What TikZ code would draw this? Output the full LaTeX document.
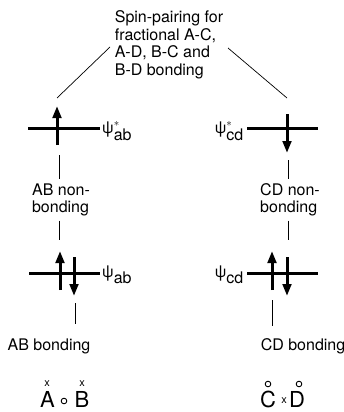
\documentclass[tikz,border=0pt]{standalone}
\usepackage{fontspec}
\setmainfont{TeX Gyre Heros}
\usetikzlibrary{arrows.meta}

\begin{document}
\begin{tikzpicture}[x=1pt,y=-1pt,
  level/.style={line width=3pt},
  spin/.style ={line width=3pt, -{Triangle[length=12pt,width=8.5pt]}},
  link/.style ={line width=0.7pt},
  txt/.style  ={font=\fontsize{16}{17.5}\selectfont, inner sep=0pt},
  atom/.style ={font=\fontsize{22}{22}\selectfont, inner sep=0pt, anchor=base},
  xtag/.style ={font=\fontsize{11}{11}\selectfont, inner sep=0pt},
  otag/.style ={line width=0.9pt}]
  \useasboundingbox (0,0) rectangle (344,412);

  % caption at the top, split to the two antibonding levels
  \node[txt, align=left] (pair) at (169,45)
    {Spin-pairing for\\fractional A-C,\\A-D, B-C and\\B-D bonding};
  \coordinate (pl) at (110,47);  \coordinate (ul) at (57,98);
  \coordinate (pr) at (228,48);  \coordinate (ur) at (287,98);
  \draw[link] (pl) -- (ul);
  \draw[link] (pr) -- (ur);

  % ---- AB side ----
  \draw[level] (28,128) -- (100,128);
  \draw[spin]  (57,145) -- (57,106);
  \node[txt, anchor=west] (psiab1) at (102,131) {ψ$^{*}_{\mbox{ab}}$};
  \node[txt, align=left] (abnb) at (61,200) {AB non-\\bonding};
  \coordinate (ab1) at (59,155);  \coordinate (ab2) at (59,240);
  \draw[link, shorten >=4pt] (ab1) -- (ab1 |- abnb.north);
  \draw[link, shorten <=4pt] (ab2 |- abnb.south) -- (ab2);
  \draw[level] (29,273) -- (100,273);
  \draw[spin]  (60,290) -- (60,251);
  \draw[spin]  (74,257) -- (74,296);
  \node[txt, anchor=west] (psiab0) at (102,275) {ψ$_{\mbox{ab}}$};
  \coordinate (ab3) at (75,303);
  \node[txt] (abb) at (49,346) {AB bonding};
  \draw[link, shorten >=14pt] (ab3) -- (ab3 |- abb.north);

  % ---- CD side ----
  \draw[level] (247,128) -- (318,128);
  \draw[spin]  (287,114) -- (287,153);
  \node[txt, anchor=east] (psicd1) at (244,131) {ψ$^{*}_{\mbox{cd}}$};
  \node[txt, align=left] (cdnb) at (290,200) {CD non-\\bonding};
  \coordinate (cd1) at (288,160);  \coordinate (cd2) at (288,240);
  \draw[link, shorten >=4pt] (cd1) -- (cd1 |- cdnb.north);
  \draw[link, shorten <=4pt] (cd2 |- cdnb.south) -- (cd2);
  \draw[level] (247,273) -- (318,273);
  \draw[spin]  (272,290) -- (272,251);
  \draw[spin]  (287,257) -- (287,296);
  \node[txt, anchor=east] (psicd0) at (244,275) {ψ$_{\mbox{cd}}$};
  \coordinate (cd3) at (272,300);
  \node[txt] (cdb) at (303,346) {CD bonding};
  \draw[link, shorten >=12pt] (cd3) -- (cd3 |- cdb.north);

  % ---- atoms ----
  \node[atom] (A) at (47.5,407) {A};  \node[xtag] at (47,384) {x};
  \draw[otag] (64,401) circle[radius=2.8pt];
  \node[atom] (B) at (82,407) {B};    \node[xtag] at (82,384) {x};
  \node[atom] (C) at (268,407) {C};   \draw[otag] (268,384) circle[radius=2.8pt];
  \node[xtag] at (284,401) {x};
  \node[atom] (D) at (297,407) {D};   \draw[otag] (299,384) circle[radius=2.8pt];
\end{tikzpicture}
\end{document}
